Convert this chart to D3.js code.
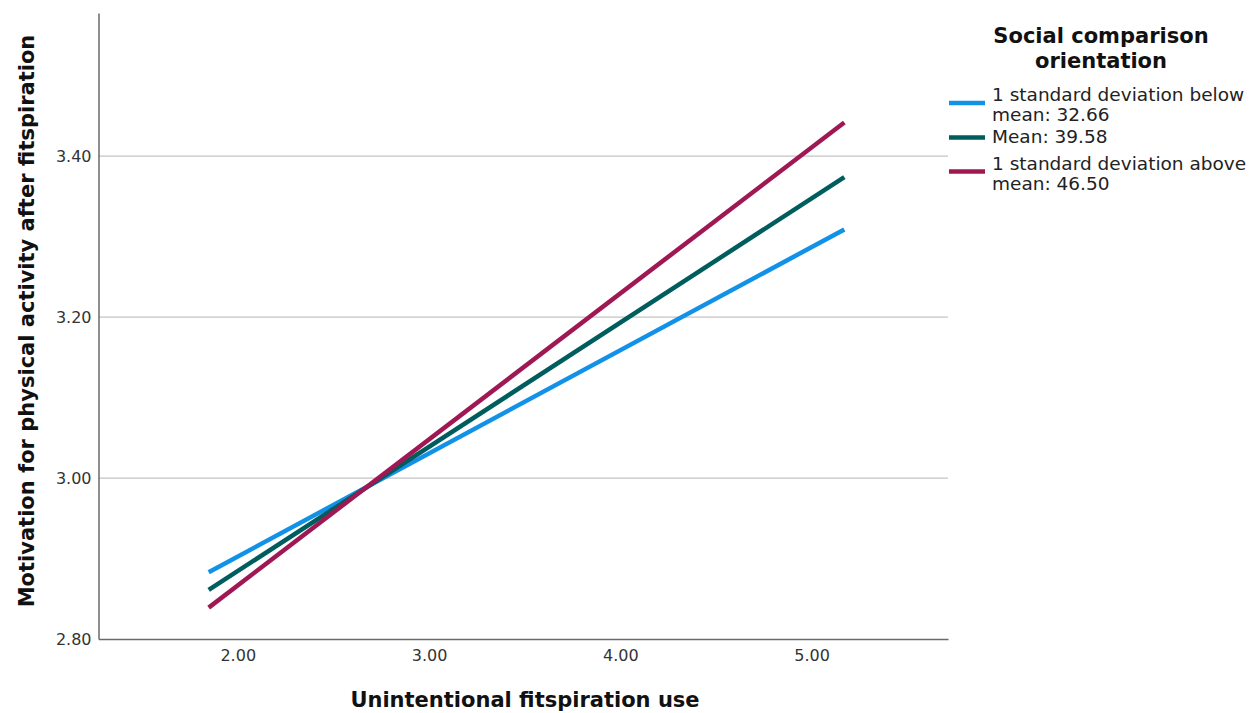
<!DOCTYPE html>
<html>
<head>
<meta charset="utf-8">
<script src="https://cdn.jsdelivr.net/npm/d3@7"></script>
<style>
  html, body { margin: 0; padding: 0; background: #fff; }
  svg { display: block; }
  text { font-family: "DejaVu Sans", Verdana, sans-serif; }
</style>
</head>
<body>
<svg id="chart" width="1260" height="713"></svg>
<script>
// Predicted motivation at the low and high ends of unintentional fitspiration use,
// for three levels of social comparison orientation.
const xEnds = [1.848, 5.171];
const seriesNames = [
  ["1 standard deviation below", "mean: 32.66"],
  ["Mean: 39.58"],
  ["1 standard deviation above", "mean: 46.50"]
];
const seriesValues = [
  [2.883, 3.309],
  [2.861, 3.374],
  [2.839, 3.442]
];
const seriesColors = ["#1192e8", "#005d5d", "#9f1853"];
const xTicks = [2, 3, 4, 5];
const yTicks = [2.8, 3.0, 3.2, 3.4];
const xTitle = "Unintentional fitspiration use";
const yTitle = "Motivation for physical activity after fitspiration";
const legendTitle = ["Social comparison", "orientation"];

const svg = d3.select("#chart");
const plot = { left: 98.5, right: 948, top: 13, bottom: 639 };

const x = d3.scaleLinear().domain([1.272, 5.713]).range([plot.left, plot.right]);
const y = d3.scaleLinear().domain([2.8, 3.578]).range([plot.bottom, plot.top]);

// horizontal gridlines
svg.append("g")
  .selectAll("line")
  .data(yTicks.filter(d => d > 2.8))
  .join("line")
  .attr("x1", plot.left).attr("x2", plot.right)
  .attr("y1", d => y(d)).attr("y2", d => y(d))
  .attr("stroke", "#c4c4c4").attr("stroke-width", 1.2);

// axes
const xAxis = svg.append("g")
  .attr("transform", `translate(0,${plot.bottom})`)
  .call(d3.axisBottom(x).tickValues(xTicks).tickFormat(d3.format(".2f")).tickSize(0).tickPadding(11));
const yAxis = svg.append("g")
  .attr("transform", `translate(${plot.left},0)`)
  .call(d3.axisLeft(y).tickValues(yTicks).tickFormat(d3.format(".2f")).tickSize(0).tickPadding(7));

[xAxis, yAxis].forEach(g => {
  g.select(".domain").attr("stroke", "#6a6a6a").attr("stroke-width", 1.5);
  g.selectAll("text").attr("fill", "#333").style("font-size", "16px");
});

// regression lines
const line = d3.line().x(d => x(d[0])).y(d => y(d[1]));
svg.append("g")
  .selectAll("path")
  .data(seriesValues)
  .join("path")
  .attr("d", vals => line(vals.map((v, i) => [xEnds[i], v])))
  .attr("fill", "none")
  .attr("stroke", (d, i) => seriesColors[i])
  .attr("stroke-width", 4.5);

// axis titles
svg.append("text")
  .attr("x", 525)
  .attr("y", 707)
  .attr("text-anchor", "middle")
  .style("font-size", "21px").style("font-weight", "bold").attr("fill", "#111")
  .text(xTitle);

svg.append("text")
  .attr("transform", `translate(34,${(36 + 606) / 2}) rotate(-90)`)
  .attr("text-anchor", "middle")
  .style("font-size", "21px").style("font-weight", "bold").attr("fill", "#111")
  .text(yTitle);

// legend
const legend = svg.append("g");
legend.selectAll("text.title")
  .data(legendTitle)
  .join("text")
  .attr("class", "title")
  .attr("x", 1101)
  .attr("y", (d, i) => 43 + i * 25)
  .attr("text-anchor", "middle")
  .style("font-size", "21px").style("font-weight", "bold").attr("fill", "#111")
  .text(d => d);

const swatchY = [103, 137.5, 171.5];
const firstBaseline = [101, 143, 170];
seriesNames.forEach((lines, i) => {
  legend.append("line")
    .attr("x1", 949).attr("x2", 985)
    .attr("y1", swatchY[i]).attr("y2", swatchY[i])
    .attr("stroke", seriesColors[i]).attr("stroke-width", 4.5);
  lines.forEach((t, j) => {
    legend.append("text")
      .attr("x", 992)
      .attr("y", firstBaseline[i] + j * 20)
      .style("font-size", "18.5px").attr("fill", "#222")
      .text(t);
  });
});
</script>
</body>
</html>
